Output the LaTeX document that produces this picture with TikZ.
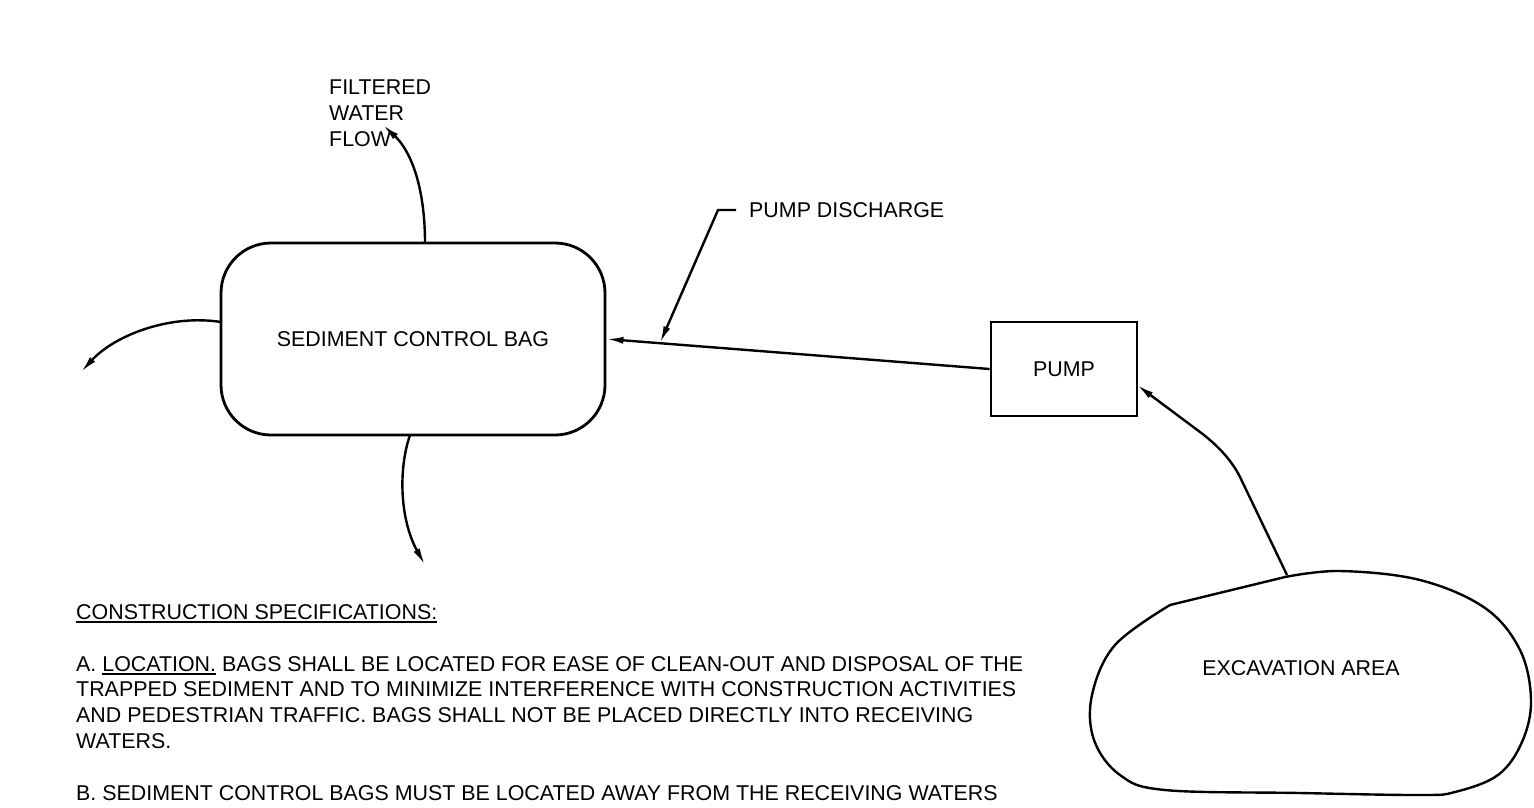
\documentclass[tikz,border=0pt]{standalone}
\usepackage{fontspec}
\setmainfont{Liberation Sans}
\usetikzlibrary{arrows.meta}
\newcommand\myul[1]{\setbox0\hbox{#1}\rlap{\rule[-3.5pt]{\wd0}{1.6pt}}\box0\relax}
\begin{document}
\begin{tikzpicture}[x=1pt,y=-1pt,
  line width=2.4pt,
  font=\fontsize{21.4}{21.4}\selectfont,
  arr/.style={-{Latex[length=17pt,width=7pt]}},
  txt/.style={anchor=base west,inner sep=0pt},
  boxline/.style={draw,line width=2.8pt}]
\useasboundingbox (0,0) rectangle (1534,807);
% bag
\node[boxline,rounded corners=50pt,minimum width=384pt,minimum height=192pt] (bag) at (413,339) {SEDIMENT CONTROL BAG};
% pump
\node[boxline,minimum width=146pt,minimum height=94pt] (pump) at (1064,369) {PUMP};
% excavation area
\draw[line width=2.4pt,line join=round] plot[smooth,tension=0.6] coordinates {(1285,577) (1340,571) (1420,580) (1485,608) (1520,650) (1531,700) (1522,742) (1498,775) (1455,792) (1420,795) (1300,793) (1165,790) (1120,775) (1094,740) (1092,695) (1115,645) (1170,605)} -- cycle;
\node (exc) at (1301,668) {EXCAVATION AREA};
\coordinate (excTop) at (1287,575);
% coordinates
\coordinate (fTop) at (425,243);
\coordinate (fTip) at (383,125);
\coordinate (lSt) at (221,322);
\coordinate (lTip) at (81,372);
\coordinate (bSt) at (410,435);
\coordinate (bTip) at (425,565);
\coordinate (pIn) at (1137,385);
% arrows from bag
\draw[arr] (fTop) .. controls (425,185) and (410,150) .. (fTip);
\draw[arr] (lSt) .. controls (170,314) and (115,335) .. (lTip);
\draw[arr] (bSt) .. controls (398,470) and (400,520) .. (bTip);
% pump to bag
\draw[arr] (pump.west) -- (bag.east);
% excavation to pump
\draw[arr] (excTop) -- (1240,477) .. controls (1231,459) and (1216,444) .. (1200,432) -- (pIn);
% labels
\node[txt] (f1) at (328,94.5) {FILTERED};
\node[txt] (f2) at (328,120.5) {WATER};
\node[txt] (f3) at (328,146.5) {FLOW};
\node[txt] (pd) at (748,217.5) {PUMP DISCHARGE};
\coordinate (ldA) at (736,210);
\coordinate (ldB) at (718,210);
\coordinate (ldC) at (660,343);
\draw[arr] (ldA) -- (ldB) -- (ldC);
% specifications
\node[txt] (s0) at (75,619.5) {\myul{CONSTRUCTION SPECIFICATIONS:}};
\node[txt] (s1) at (75,671) {A. \myul{LOCATION.} BAGS SHALL BE LOCATED FOR EASE OF CLEAN-OUT AND DISPOSAL OF THE};
\node[txt] (s2) at (75,696.8) {TRAPPED SEDIMENT AND TO MINIMIZE INTERFERENCE WITH CONSTRUCTION ACTIVITIES};
\node[txt] (s3) at (75,722.5) {AND PEDESTRIAN TRAFFIC. BAGS SHALL NOT BE PLACED DIRECTLY INTO RECEIVING};
\node[txt] (s4) at (75,748.3) {WATERS.};
\node[txt] (s5) at (75,800) {B. SEDIMENT CONTROL BAGS MUST BE LOCATED AWAY FROM THE RECEIVING WATERS};
\end{tikzpicture}
\end{document}
